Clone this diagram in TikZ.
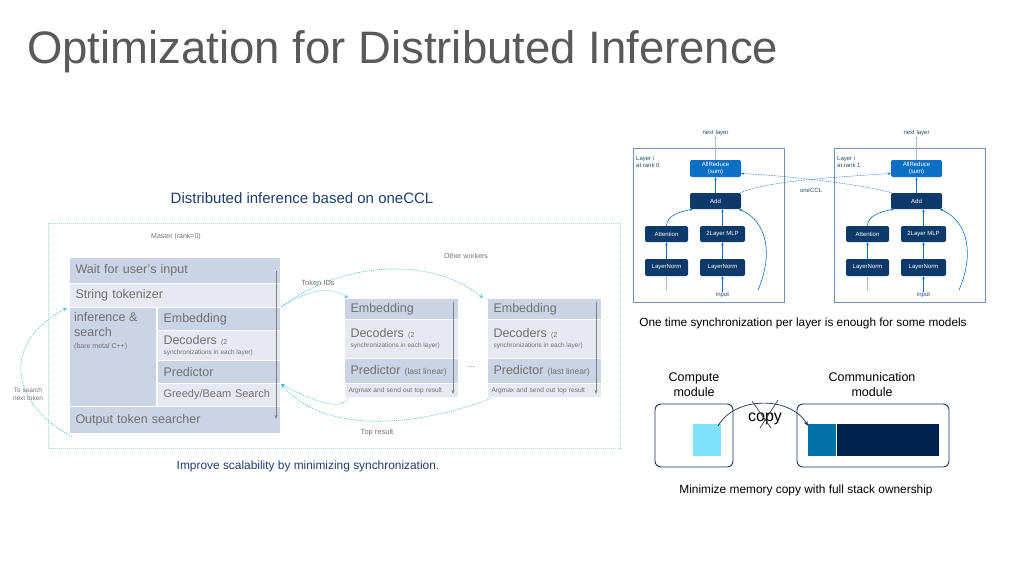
\documentclass[tikz,border=0pt]{standalone}
\usepackage{fontspec}
\setmainfont{Liberation Sans}
\usetikzlibrary{arrows.meta}
\definecolor{titlegray}{HTML}{595959}
\definecolor{rowdark}{HTML}{CBD4E4}
\definecolor{rowlight}{HTML}{E6E9F1}
\definecolor{txtgray}{HTML}{707070}
\definecolor{cyanl}{HTML}{45C0D8}
\definecolor{dotbox}{HTML}{A8D6E0}
\definecolor{navy}{HTML}{0E3A6B}
\definecolor{midblue}{HTML}{0B6FC4}
\definecolor{lightarr}{HTML}{A9C1D9}
\definecolor{capblue}{HTML}{1E3D6E}
\definecolor{boxline}{HTML}{6E93BA}
\definecolor{sqcyan}{HTML}{7FE1FB}
\definecolor{barmid}{HTML}{0071A7}
\definecolor{bardark}{HTML}{00204E}
\definecolor{modline}{HTML}{1A2E5A}
\newcommand{\smtxt}[2]{{\fontsize{#1}{#1}\selectfont\spaceskip=0pt\xspaceskip=0pt #2}}
\begin{document}
\begin{tikzpicture}[x=1pt,y=-1pt,
  every node/.style={inner sep=0pt},
  cell/.style={draw=white, line width=1pt, anchor=north west, inner xsep=6pt, inner ysep=0pt,
    align=left, text=txtgray, font=\fontsize{12.5}{14}\selectfont},
  smalltxt/.style={text=txtgray, font=\fontsize{7}{8}\selectfont, align=center},
  cyanflow/.style={draw=cyanl, line width=0.6pt, dash pattern=on 1pt off 1pt,
    -{Stealth[length=4pt,width=3.5pt]}},
  flow/.style={draw=gray, line width=0.6pt, -{Stealth[length=4pt,width=3pt]}},
  blk/.style={fill=navy, rounded corners=2pt, text=white, font=\fontsize{6}{7}\selectfont,
    align=center},
  barrow/.style={draw=midblue, line width=0.6pt, -{Stealth[length=3pt,width=2.5pt]}},
  larrow/.style={draw=lightarr, line width=0.6pt, -{Stealth[length=3pt,width=2.5pt]}},
  ccl/.style={draw=midblue, line width=0.5pt, dash pattern=on 0.8pt off 0.8pt,
    -{Stealth[length=3pt,width=2.5pt]}},
  tinytxt/.style={text=navy!80!gray, font=\fontsize{6}{7}\selectfont, align=left},
  caption/.style={text=capblue, font=\fontsize{11.9}{13}\selectfont},
  modbox/.style={draw=modline, line width=0.9pt, rounded corners=6pt},
  modtxt/.style={text=black, font=\fontsize{12.5}{15}\selectfont, align=center}
]
\useasboundingbox (0,0) rectangle (1024,576);

% ---------- title ----------
\node[anchor=base west, text=titlegray, font=\fontsize{45.5}{50}\selectfont] (title) at (27,63)
  {Optimization for Distributed Inference};

% ---------- left diagram ----------
\node[caption, font=\fontsize{15}{16}\selectfont] (lefthead) at (302,198) {Distributed inference based on oneCCL};
\draw[draw=dotbox, line width=0.6pt, dash pattern=on 1pt off 1pt] (48,223) rectangle (620,448);
\node[smalltxt] (master) at (176,237) {Master (rank=0)};

\node[cell, fill=rowdark, text width=199pt, minimum height=26pt] (wait) at (69,257) {Wait for user’s input};
\node[cell, fill=rowlight, text width=199pt, minimum height=24pt] (tokz) at (69,283) {String tokenizer};
\node[cell, fill=rowdark, text width=75pt, minimum height=99pt] (infer) at (69,307) {};
\node[anchor=north west, align=left, text=txtgray, font=\fontsize{12.5}{15}\selectfont] (infertxt) at (74,312)
  {inference \&\\search\\[-3pt]\smtxt{7}{(bare metal C++)}};
\node[cell, fill=rowdark, text width=111pt, minimum height=23pt] (emb) at (157,307) {Embedding};
\node[cell, fill=rowlight, text width=111pt, minimum height=30pt] (dec) at (157,330)
  {Decoders \smtxt{7}{(2}\\[-4pt]\smtxt{6.5}{synchronizations in each layer)}};
\node[cell, fill=rowdark, text width=111pt, minimum height=23pt] (pred) at (157,360) {Predictor};
\node[cell, fill=rowlight, text width=111pt, minimum height=23pt, font=\fontsize{11}{12}\selectfont] (greedy) at (157,383) {Greedy/Beam Search};
\node[cell, fill=rowdark, text width=199pt, minimum height=27pt] (outs) at (69,406) {Output token searcher};
\coordinate (mtop) at (276,271);
\coordinate (mbot) at (276,419);
\draw[flow] (mtop) -- (mbot);

% workers
\foreach \i/\x in {1/344, 2/487} {
  \node[cell, fill=rowdark, text width=102pt, minimum height=21pt] (emb\i) at (\x,298) {Embedding};
  \node[cell, fill=rowlight, text width=102pt, minimum height=39pt] (dec\i) at (\x,319)
    {Decoders \smtxt{7}{(2}\\[-4pt]\smtxt{6.5}{synchronizations in each layer)}\\[4pt]};
  \node[cell, fill=rowdark, text width=102pt, minimum height=25pt] (pred\i) at (\x,358)
    {Predictor \smtxt{8.5}{(last linear)}};
  \node[cell, fill=rowlight, text width=106pt, inner xsep=4pt, minimum height=14pt,
    font=\fontsize{6.6}{8}\selectfont] (arg\i) at (\x,383) {Argmax and send out top result};
  \coordinate (wt\i) at ({\x+109},302);
  \coordinate (wb\i) at ({\x+109},394);
  \draw[flow] (wt\i) -- (wb\i);
}
\node[text=txtgray, font=\fontsize{9}{10}\selectfont] (dots) at (471,367) {…};
\node[smalltxt] (others) at (466,256) {Other workers};
\node[smalltxt, font=\fontsize{7.5}{9}\selectfont] (tokids) at (318,283) {Token IDs};
\node[smalltxt, font=\fontsize{7.5}{9}\selectfont] (topres) at (377,433) {Top result};
\node[smalltxt, font=\fontsize{6.5}{8}\selectfont] (tosearch) at (28,394) {To search\\next token};

\draw[cyanflow] (emb.north east) .. controls (305,292) and (328,284) .. ([xshift=4pt]emb1.north west);
\draw[cyanflow] (emb.north east) .. controls (340,262) and (430,255) .. ([xshift=-4pt]emb2.north west);
\draw[cyanflow] ([xshift=4pt]arg1.south west) .. controls (342,412) and (310,400) .. (pred.south east);
\draw[cyanflow] ([xshift=5pt]arg2.south west) .. controls (430,422) and (330,440) .. (pred.south east);
\draw[cyanflow] ([xshift=3pt,yshift=-3pt]outs.south west) .. controls (5,400) and (5,340) .. ([xshift=-2pt]tokz.south west);

\node[caption] (leftcap) at (308,466) {Improve scalability by minimizing synchronization.};

% ---------- right top diagram ----------
\foreach \k/\dx in {0/0, 1/201} {
  \draw[draw=boxline, line width=0.8pt] ({633+\dx},148) rectangle ({784+\dx},302);
  \node[tinytxt, anchor=north west] (lay\k) at ({636+\dx},156) {Layer i\\at rank \k};
  \node[blk, fill=midblue, minimum width=51pt, minimum height=17pt] (ar\k) at ({715.5+\dx},168.5) {AllReduce\\(sum)};
  \node[blk, minimum width=51pt, minimum height=16pt] (add\k) at ({715.5+\dx},201) {Add};
  \node[blk, minimum width=43pt, minimum height=16pt] (att\k) at ({666.5+\dx},234) {Attention};
  \node[blk, minimum width=45pt, minimum height=16pt] (mlp\k) at ({722.5+\dx},234) {2Layer MLP};
  \node[blk, minimum width=43pt, minimum height=17pt] (lna\k) at ({666.5+\dx},267.5) {LayerNorm};
  \node[blk, minimum width=45pt, minimum height=17pt] (lnb\k) at ({722.5+\dx},267.5) {LayerNorm};
  \node[tinytxt] (nl\k) at ({715.5+\dx},133) {next layer};
  \node[tinytxt] (in\k) at ({722.5+\dx},295) {input};
  \coordinate (ina\k) at ({666.5+\dx},291);
  \coordinate (res\k) at ({758+\dx},290);
  \draw[larrow] (ina\k) -- (lna\k.south);
  \draw[barrow] (in\k.north) -- (lnb\k.south);
  \draw[barrow] (lna\k.north) -- (att\k.south);
  \draw[barrow] (lnb\k.north) -- (mlp\k.south);
  \draw[barrow] (att\k.north) .. controls ({667+\dx},216) and ({678+\dx},212) .. ([xshift=3pt]add\k.south west);
  \draw[barrow] (mlp\k.north) -- (add\k.south -| mlp\k.north);
  \draw[barrow] (add\k.north) -- (ar\k.south);
  \draw[larrow] (ar\k.north) -- (nl\k.south);
  \draw[barrow] (res\k) .. controls ({773+\dx},255) and ({768+\dx},222) .. ([xshift=-2pt]add\k.south east);
}
\draw[ccl] ([xshift=-1pt]add0.north east) .. controls (765,182) and (820,178) .. ([yshift=-5pt]ar1.west);
\draw[ccl] ([xshift=1pt]add1.north west) .. controls (860,184) and (790,176) .. ([yshift=-5pt]ar0.east);
\node[tinytxt] (onecclr) at (811,190) {oneCCL};
\node[text=black, font=\fontsize{11.8}{13}\selectfont] (rtcap) at (803,323)
  {One time synchronization per layer is enough for some models};

% ---------- bottom right ----------
\node[modtxt] (cmpt) at (694,385) {Compute\\module};
\node[modtxt] (comm) at (872,385) {Communication\\module};
\node[modbox, minimum width=78pt, minimum height=63pt] (cbox) at (694,435.5) {};
\node[modbox, minimum width=152pt, minimum height=63pt] (mbox) at (873,435.5) {};
\node[fill=sqcyan, minimum width=28pt, minimum height=32pt] (sq) at (707,440) {};
\node[fill=barmid, anchor=west, minimum width=28pt, minimum height=32pt] (barA) at (808,440) {};
\node[fill=bardark, anchor=west, minimum width=102pt, minimum height=32pt] (barB) at (barA.east) {};
\draw[draw=modline, line width=0.7pt, -{Stealth[length=5pt,width=4pt]}]
  ([xshift=-3pt,yshift=-2pt]sq.north east) .. controls (735,396) and (790,396) .. ([yshift=-2pt]barA.north west);
\node[text=black, font=\fontsize{16}{18}\selectfont] (copyt) at (765,419) {copy};
\coordinate (xa) at (752,401);
\coordinate (xb) at (771,428);
\coordinate (xc) at (778,400);
\coordinate (xd) at (760,428);
\draw[draw=black!75, line width=0.7pt] (xa) -- (xb);
\draw[draw=black!75, line width=0.7pt] (xc) -- (xd);
\node[text=black, font=\fontsize{11.9}{13}\selectfont] (brcap) at (806,490)
  {Minimize memory copy with full stack ownership};
\end{tikzpicture}
\end{document}
